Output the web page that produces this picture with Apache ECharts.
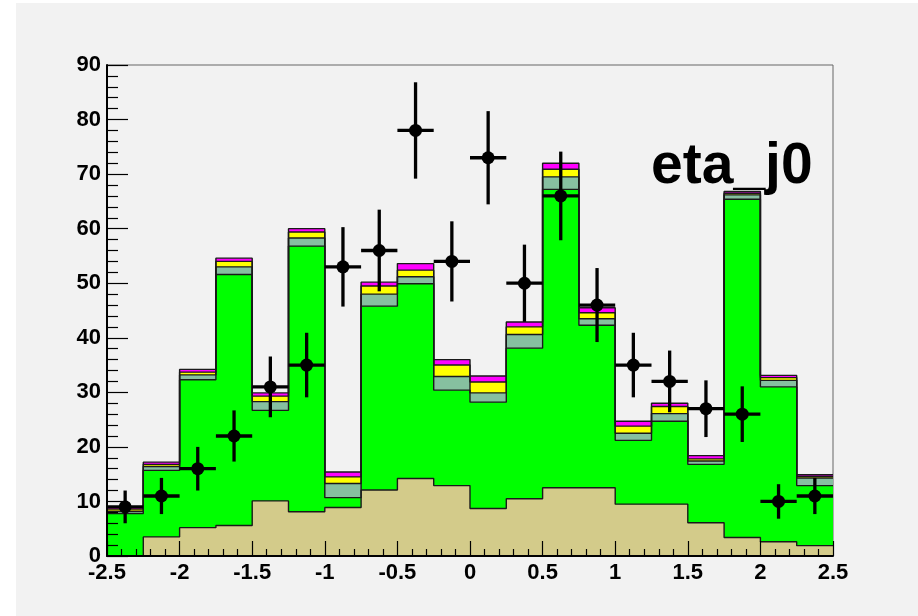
<!DOCTYPE html>
<html>
<head>
<meta charset="utf-8">
<script src="https://cdn.jsdelivr.net/npm/echarts@6/dist/echarts.min.js"></script>
<style>
  html, body { margin: 0; padding: 0; background: #ffffff; }
  #chart { width: 918px; height: 616px; }
</style>
</head>
<body>
<div id="chart"></div>
<script>
// Histogram binning of eta_j0: 20 bins of width 0.25 from -2.5 to 2.5
const binLow = -2.5;
const binWidth = 0.25;
const nBins = 20;

// Stacked background contributions per bin (events), bottom to top
const tanBkg     = [0.0, 3.5, 5.2, 5.6, 10.1, 8.1, 8.9, 12.1, 14.2, 12.9, 8.7, 10.5, 12.5, 12.5, 9.5, 9.5, 6.1, 3.4, 2.6, 1.9];
const greenBkg   = [7.8, 12.2, 27.1, 46.0, 16.6, 48.7, 1.8, 33.7, 35.7, 17.5, 19.5, 27.6, 54.7, 29.8, 11.7, 15.2, 10.7, 62.0, 28.4, 11.0];
const seaBkg     = [0.4, 0.7, 0.9, 1.4, 1.6, 1.5, 2.6, 2.2, 1.3, 2.5, 1.7, 2.5, 2.3, 1.2, 1.3, 1.4, 0.6, 0.8, 1.2, 1.4];
const yellowBkg  = [0.4, 0.4, 0.5, 1.0, 1.0, 1.1, 1.2, 1.5, 1.2, 2.1, 2.0, 1.4, 1.4, 1.1, 1.3, 1.3, 0.4, 0.3, 0.5, 0.3];
const magentaBkg = [0.4, 0.4, 0.5, 0.6, 0.6, 0.6, 0.9, 0.7, 1.2, 1.0, 1.1, 0.9, 1.1, 0.9, 0.9, 0.6, 0.6, 0.3, 0.4, 0.3];

// Observed counts per bin
const observed = [9, 11, 16, 22, 31, 35, 53, 56, 78, 54, 73, 50, 66, 46, 35, 32, 27, 26, 10, 11];

// Axis ticks
const xTicks = { min: -2.5, max: 2.5, step: 0.5 };
const yTicks = { min: 0, max: 90, step: 10 };

// Bin edges and centres
const edges = [];
for (let i = 0; i <= nBins; i++) edges.push(binLow + i * binWidth);
const centres = edges.slice(0, nBins).map(e => e + binWidth / 2);

// Running sums of the stack, like a THStack: each level is drawn filled from zero
const layers = [
  { name: 'tan', vals: tanBkg, color: '#d3cb8a' },
  { name: 'green', vals: greenBkg, color: '#00ff00' },
  { name: 'seagreen', vals: seaBkg, color: '#86c0a0' },
  { name: 'yellow', vals: yellowBkg, color: '#ffff00' },
  { name: 'magenta', vals: magentaBkg, color: '#ff00ff' }
];
let running = new Array(nBins).fill(0);
layers.forEach(l => {
  running = running.map((s, i) => s + l.vals[i]);
  l.cum = running.slice();
});

// Step-outline points: value held from each left edge to the next edge
function stepPoints(vals) {
  const pts = vals.map((v, i) => [edges[i], v]);
  pts.push([edges[nBins], vals[nBins - 1]]);
  return pts;
}

const outline = { color: '#1a1a1a', width: 1.4 };

// Top of the stack first, so each lower level paints over the one above it
const stackSeries = layers.slice().reverse().map(l => ({
  name: l.name,
  type: 'line',
  step: 'end',
  symbol: 'none',
  data: stepPoints(l.cum),
  lineStyle: outline,
  areaStyle: { color: l.color, opacity: 1, origin: 'start' },
  emphasis: { disabled: true },
  silent: true,
  z: 2
}));

const points = observed.map((v, i) => [centres[i], v, Math.sqrt(v)]);

const chart = echarts.init(document.getElementById('chart'), null, { renderer: 'canvas' });

const labelFont = {
  fontFamily: '"Liberation Sans", Arial, sans-serif',
  fontWeight: 'bold',
  fontSize: 22,
  color: '#000'
};

chart.setOption({
  animation: false,
  backgroundColor: '#ffffff',
  graphic: [
    {
      type: 'rect',
      shape: { x: 16, y: 3, width: 918 - 16, height: 616 - 3 },
      style: { fill: '#f2f2f2' },
      z: -10,
      silent: true
    },
    {
      type: 'text',
      left: 651,
      top: 139,
      style: {
        text: 'eta_j0',
        font: 'bold 57px "Liberation Sans", Arial, sans-serif',
        fill: '#000'
      },
      z: 20
    }
  ],
  grid: {
    left: 107,
    right: 85,
    top: 65,
    bottom: 60,
    show: true,
    backgroundColor: 'transparent',
    borderColor: '#666',
    borderWidth: 1
  },
  xAxis: {
    type: 'value',
    min: xTicks.min,
    max: xTicks.max,
    interval: xTicks.step,
    axisLine: { show: true, onZero: false, lineStyle: { color: '#000', width: 2 } },
    axisTick: { show: true, inside: true, length: 15, lineStyle: { color: '#000', width: 1.2 } },
    minorTick: { show: true, splitNumber: 5, length: 7, lineStyle: { color: '#000', width: 1.2 } },
    axisLabel: Object.assign({ margin: 6, showMinLabel: true, showMaxLabel: true }, labelFont),
    splitLine: { show: false },
    z: 10
  },
  yAxis: {
    type: 'value',
    min: yTicks.min,
    max: yTicks.max,
    interval: yTicks.step,
    axisLine: { show: true, onZero: false, lineStyle: { color: '#000', width: 2 } },
    axisTick: { show: true, inside: true, length: 21, lineStyle: { color: '#000', width: 1.2 } },
    minorTick: { show: true, splitNumber: 5, length: 11, lineStyle: { color: '#000', width: 1.2 } },
    axisLabel: Object.assign({ margin: 6, showMinLabel: true, showMaxLabel: true }, labelFont),
    splitLine: { show: false },
    z: 10
  },
  series: stackSeries.concat([
    {
      name: 'data',
      type: 'custom',
      data: points,
      silent: true,
      z: 5,
      renderItem: function (params, api) {
        const x = api.value(0), y = api.value(1), e = api.value(2);
        const c = api.coord([x, y]);
        const l = api.coord([x - binWidth / 2, y]);
        const r = api.coord([x + binWidth / 2, y]);
        const lo = api.coord([x, y - e]);
        const hi = api.coord([x, y + e]);
        const stroke = { stroke: '#000', lineWidth: 3.3 };
        return {
          type: 'group',
          children: [
            { type: 'line', shape: { x1: l[0], y1: l[1], x2: r[0], y2: r[1] }, style: stroke },
            { type: 'line', shape: { x1: lo[0], y1: lo[1], x2: hi[0], y2: hi[1] }, style: stroke },
            { type: 'circle', shape: { cx: c[0], cy: c[1], r: 6.5 }, style: { fill: '#000' } }
          ]
        };
      }
    }
  ])
});
</script>
</body>
</html>
